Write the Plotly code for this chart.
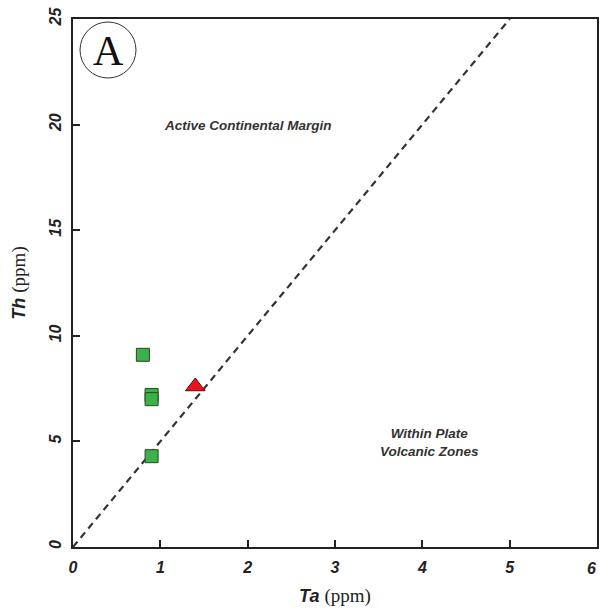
import plotly.graph_objects as go

# Data
sq_ta = [0.8, 0.9, 0.9, 0.9]
sq_th = [9.1, 7.2, 7.0, 4.3]
tri_ta = [1.4]
tri_th = [7.6]
line_ta = [0, 5]
line_th = [0, 25]
x_ticks = [0, 1, 2, 3, 4, 5, 6]
y_ticks = [0, 5, 10, 15, 20, 25]

fig = go.Figure()
fig.add_trace(go.Scatter(x=line_ta, y=line_th, mode="lines",
                         line=dict(color="#333333", width=2.2, dash="7px,5px"),
                         showlegend=False, hoverinfo="skip"))
fig.add_trace(go.Scatter(x=sq_ta, y=sq_th, mode="markers",
                         marker=dict(symbol="square", size=13, color="#3DB049",
                                     line=dict(color="#1E4A22", width=1)),
                         showlegend=False))
fig.add_trace(go.Scatter(x=tri_ta, y=tri_th, mode="markers",
                         marker=dict(symbol="triangle-up", size=17, color="#E8141C",
                                     line=dict(color="#5A0A0A", width=1)),
                         showlegend=False))

tickfont = dict(family="Liberation Sans, Arial", size=16, color="#222222")
titlefont = dict(family="Liberation Sans, Arial", size=18, color="#222")
fig.update_xaxes(range=[0, 6], tickvals=x_ticks, ticks="inside", ticklen=7,
                 tickwidth=1.5, tickcolor="#222", showline=True, linecolor="#222",
                 linewidth=2, mirror=True, showgrid=False, zeroline=False,
                 tickfont=tickfont, ticklabelstandoff=5, automargin=False,
                 ticktext=[f"<b><i>{v}</i></b>" for v in x_ticks],
                 title=dict(text="<b><i>Ta</i></b> <span style='font-family:Liberation Serif;font-size:19px'>(ppm)</span>",
                            font=titlefont, standoff=14))
fig.update_yaxes(range=[0, 25], tickvals=y_ticks, ticks="inside", ticklen=7,
                 tickwidth=1.5, tickcolor="#222", showline=True, linecolor="#222",
                 linewidth=2, mirror=True, showgrid=False, zeroline=False,
                 tickfont=tickfont, tickangle=-90, ticklabelstandoff=4, automargin=False,
                 ticktext=[f"<b><i>{v}</i></b>" for v in y_ticks],
                 title=dict(text="<b><i>Th</i></b> <span style='font-family:Liberation Serif;font-size:19px'>(ppm)</span>",
                            font=titlefont, standoff=16))

# last x tick label at the right page edge (kept fully visible)
fig.add_annotation(x=x_ticks[-1], xref="x", y=0, yref="paper", yanchor="middle",
                   xanchor="right", xshift=1,
                   yshift=-21, text=f"<b><i>{x_ticks[-1]}</i></b>", showarrow=False,
                   font=tickfont)

fig.add_annotation(x=2.0, y=19.95, text="<b><i>Active Continental Margin</i></b>",
                   showarrow=False, font=dict(family="Liberation Sans, Arial", size=13.5, color="#333"))
fig.add_annotation(x=4.08, y=4.96, text="<b><i>Within Plate<br>Volcanic Zones</i></b>",
                   showarrow=False, font=dict(family="Liberation Sans, Arial", size=13.5, color="#333"))

# Panel label "A" in a circle
fig.add_shape(type="circle", xref="paper", yref="paper",
              x0=(80 - 73) / 524, x1=(136 - 73) / 524,
              y0=(547 - 78) / 528, y1=(547 - 22) / 528,
              line=dict(color="#333", width=1))
fig.add_annotation(xref="paper", yref="paper", x=(108 - 73) / 524, y=(547 - 51) / 528,
                   xanchor="center", yanchor="middle",
                   text="A", showarrow=False,
                   font=dict(family="Liberation Serif, Times New Roman", size=42, color="#111"))

fig.update_layout(width=600, height=613, margin=dict(l=73, r=3, t=19, b=66),
                  plot_bgcolor="white", paper_bgcolor="white")
fig.write_html("out.html")
